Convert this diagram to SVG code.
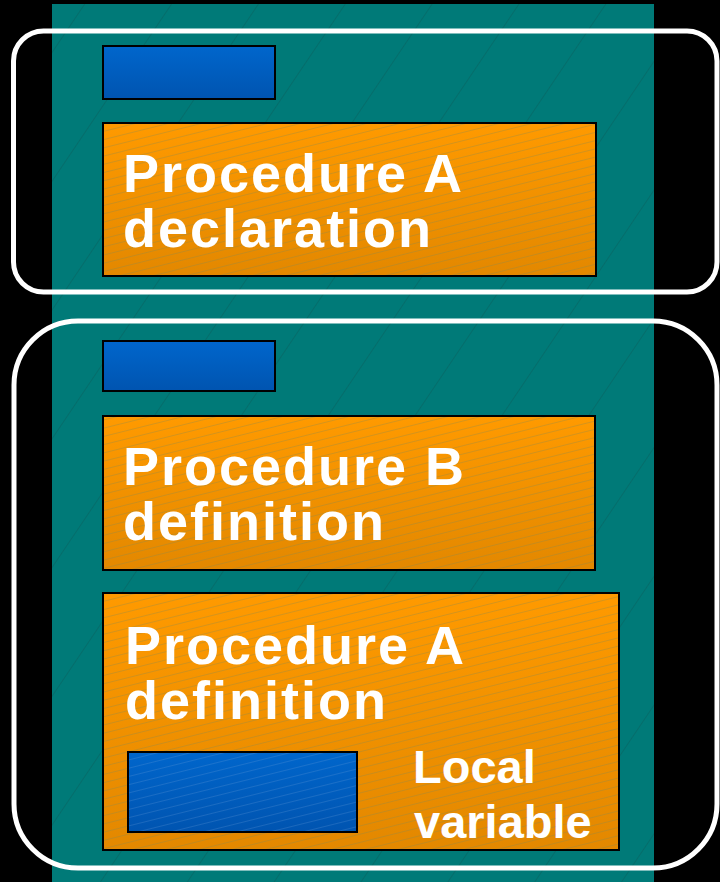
<svg xmlns="http://www.w3.org/2000/svg" width="720" height="882" viewBox="0 0 720 882">
  <defs>
    <linearGradient id="orangeFill" x1="0" y1="0" x2="0" y2="1">
      <stop offset="0" stop-color="#FF9A00"/>
      <stop offset="1" stop-color="#E38800"/>
    </linearGradient>
    <linearGradient id="blueFill" x1="0" y1="0" x2="0" y2="1">
      <stop offset="0" stop-color="#0066CC"/>
      <stop offset="1" stop-color="#0054B0"/>
    </linearGradient>
    <!-- coarse steep lines on the teal column -->
    <pattern id="tealHatch" patternUnits="userSpaceOnUse" width="200" height="72" patternTransform="rotate(-56)">
      <line x1="0" y1="0.5" x2="200" y2="0.5" stroke="#0A5F5C" stroke-width="0.8" stroke-opacity="0.6"/>
    </pattern>
    <!-- fine shallow lines on the filled boxes -->
    <pattern id="fineHatch" patternUnits="userSpaceOnUse" width="200" height="8" patternTransform="rotate(-14)">
      <line x1="0" y1="0.5" x2="200" y2="0.5" stroke="#7D8A5A" stroke-width="0.7" stroke-opacity="0.45"/>
    </pattern>
    <pattern id="fineHatchBlue" patternUnits="userSpaceOnUse" width="200" height="8" patternTransform="rotate(-14)">
      <line x1="0" y1="0.5" x2="200" y2="0.5" stroke="#6E9FD8" stroke-width="0.7" stroke-opacity="0.35"/>
    </pattern>
  </defs>
  <style>
    .frame { fill: none; stroke: #FFFFFF; stroke-width: 5; }
    .proc { fill: url(#orangeFill); stroke: #000000; stroke-width: 2; }
    .var { fill: url(#blueFill); stroke: #000000; stroke-width: 2; }
    .hatch { fill: url(#fineHatch); }
    .hatchBlue { fill: url(#fineHatchBlue); }
    .big { font-family: "Liberation Sans", Arial, sans-serif; font-weight: bold; font-size: 54px; letter-spacing: 2px; fill: #FFFFFF; }
    .small { font-family: "Liberation Sans", Arial, sans-serif; font-weight: bold; font-size: 47px; fill: #FFFFFF; }
  </style>

  <!-- background -->
  <rect x="0" y="0" width="720" height="882" fill="#000000"/>
  <rect x="52" y="4" width="602" height="878" fill="#007A78"/>
  <rect x="52" y="4" width="602" height="878" fill="url(#tealHatch)"/>

  <!-- declaration section -->
  <g id="declaration-group">
    <rect class="frame" x="13.5" y="31" width="703.5" height="261" rx="30" ry="30"/>
  </g>
  <g id="decl-var">
    <rect class="var" x="103" y="46" width="172" height="53"/>
  </g>
  <g id="proc-a-decl">
    <rect class="proc" x="103" y="123" width="493" height="153"/>
    <rect class="hatch" x="104" y="124" width="491" height="151"/>
    <text class="big" x="123" y="192">Procedure A</text>
    <text class="big" x="123" y="247">declaration</text>
  </g>

  <!-- definition section -->
  <g id="definition-group">
    <rect class="frame" x="14" y="321" width="703" height="547" rx="64" ry="64"/>
  </g>
  <g id="def-var">
    <rect class="var" x="103" y="341" width="172" height="50"/>
  </g>
  <g id="proc-b-def">
    <rect class="proc" x="103" y="416" width="492" height="154"/>
    <rect class="hatch" x="104" y="417" width="490" height="152"/>
    <text class="big" x="123" y="485">Procedure B</text>
    <text class="big" x="123" y="540">definition</text>
  </g>
  <g id="proc-a-def">
    <rect class="proc" x="103" y="593" width="516" height="257"/>
    <rect class="hatch" x="104" y="594" width="514" height="255"/>
    <text class="big" x="125" y="664">Procedure A</text>
    <text class="big" x="125" y="719">definition</text>
    <g id="local-var">
      <rect class="var" x="128" y="752" width="229" height="80"/>
      <rect class="hatchBlue" x="129" y="753" width="227" height="78"/>
    </g>
    <text class="small" x="413" y="783">Local</text>
    <text class="small" x="414" y="838">variable</text>
  </g>

  <g id="connectors"/>
</svg>
